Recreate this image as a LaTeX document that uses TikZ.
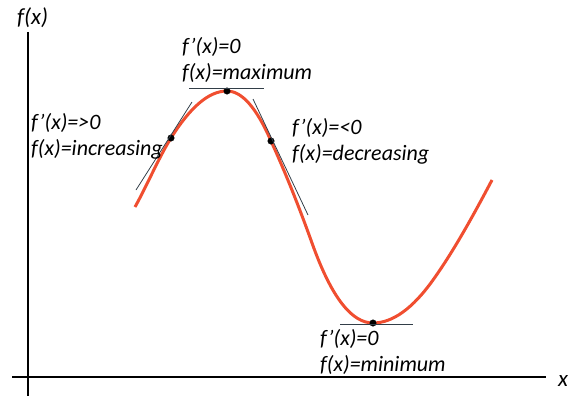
\documentclass[tikz,border=0pt]{standalone}
\usepackage{fontspec}
\setmainfont{Carlito}
\definecolor{curvered}{RGB}{240,78,48}
\definecolor{tanline}{RGB}{50,62,72}
\tikzset{
  lbl/.style={anchor=west, inner sep=0pt, align=left, font=\itshape\fontsize{22}{26}\selectfont},
  dot/.style={circle, draw, fill, minimum size=6.5pt, inner sep=0pt},
  tangent/.style={draw=tanline, line width=0.8pt},
  axis/.style={line width=2.4pt}
}
\begin{document}
\begin{tikzpicture}[x=1pt, y=-1pt]

        \useasboundingbox (0,0) rectangle (570,396);

        % Define nodes (axes)

        \coordinate (xstart) at (12,377);
        \coordinate (xend) at (546,377);
        \coordinate (ytop) at (28,32);
        \coordinate (ybot) at (28,396);

        \node (ylabel) at (17,25) [anchor=base west, inner sep=0pt, font=\itshape\fontsize{23}{26}\selectfont] {f(x)};
        \node (xlabel) at (558,386) [anchor=base west, inner sep=0pt, font=\itshape\fontsize{23}{26}\selectfont] {x};

        \draw[axis] (xstart) -- (xend);
        \draw[axis] (ytop) -- (ybot);

        % the curve

        \draw[curvered, line width=3pt]
          (135,207) .. controls (147,185.4) and (159,157.2) .. (171,138)
          .. controls (189.7,108.1) and (208.3,91) .. (227,91)
          .. controls (241.7,91) and (256.3,107.3) .. (271,141)
          .. controls (284.7,171) and (298.3,204.7) .. (312,243)
          .. controls (332.3,299.9) and (352.7,323) .. (373,323)
          .. controls (393,323) and (413,308) .. (433,280)
          .. controls (452.7,252.5) and (472.3,217.4) .. (492,180);

        % points on the curve

        \node (inc) at (171,138) [dot] {};
        \node (max) at (227,91) [dot] {};
        \node (dec) at (271,141) [dot] {};
        \node (min) at (373,323) [dot] {};

        % tangent lines

        \draw[tangent] (inc) ++(-35,52) -- ++(56,-88);
        \draw[tangent] (max) ++(-38,-3) -- ++(75,0);
        \draw[tangent] (dec) ++(-18,-42) -- ++(55,116);
        \draw[tangent] (min) ++(-33,1) -- ++(73,0);

        % labels

        \node (inclabel) at (31,136) [lbl] {f'(x)=>0\\f(x)=increasing};
        \node (maxlabel) at (182,60) [lbl] {f'(x)=0\\f(x)=maximum};
        \node (declabel) at (292,141) [lbl] {f'(x)=<0\\f(x)=decreasing};
        \node (minlabel) at (320,352) [lbl] {f'(x)=0\\f(x)=minimum};

    \end{tikzpicture}
\end{document}
